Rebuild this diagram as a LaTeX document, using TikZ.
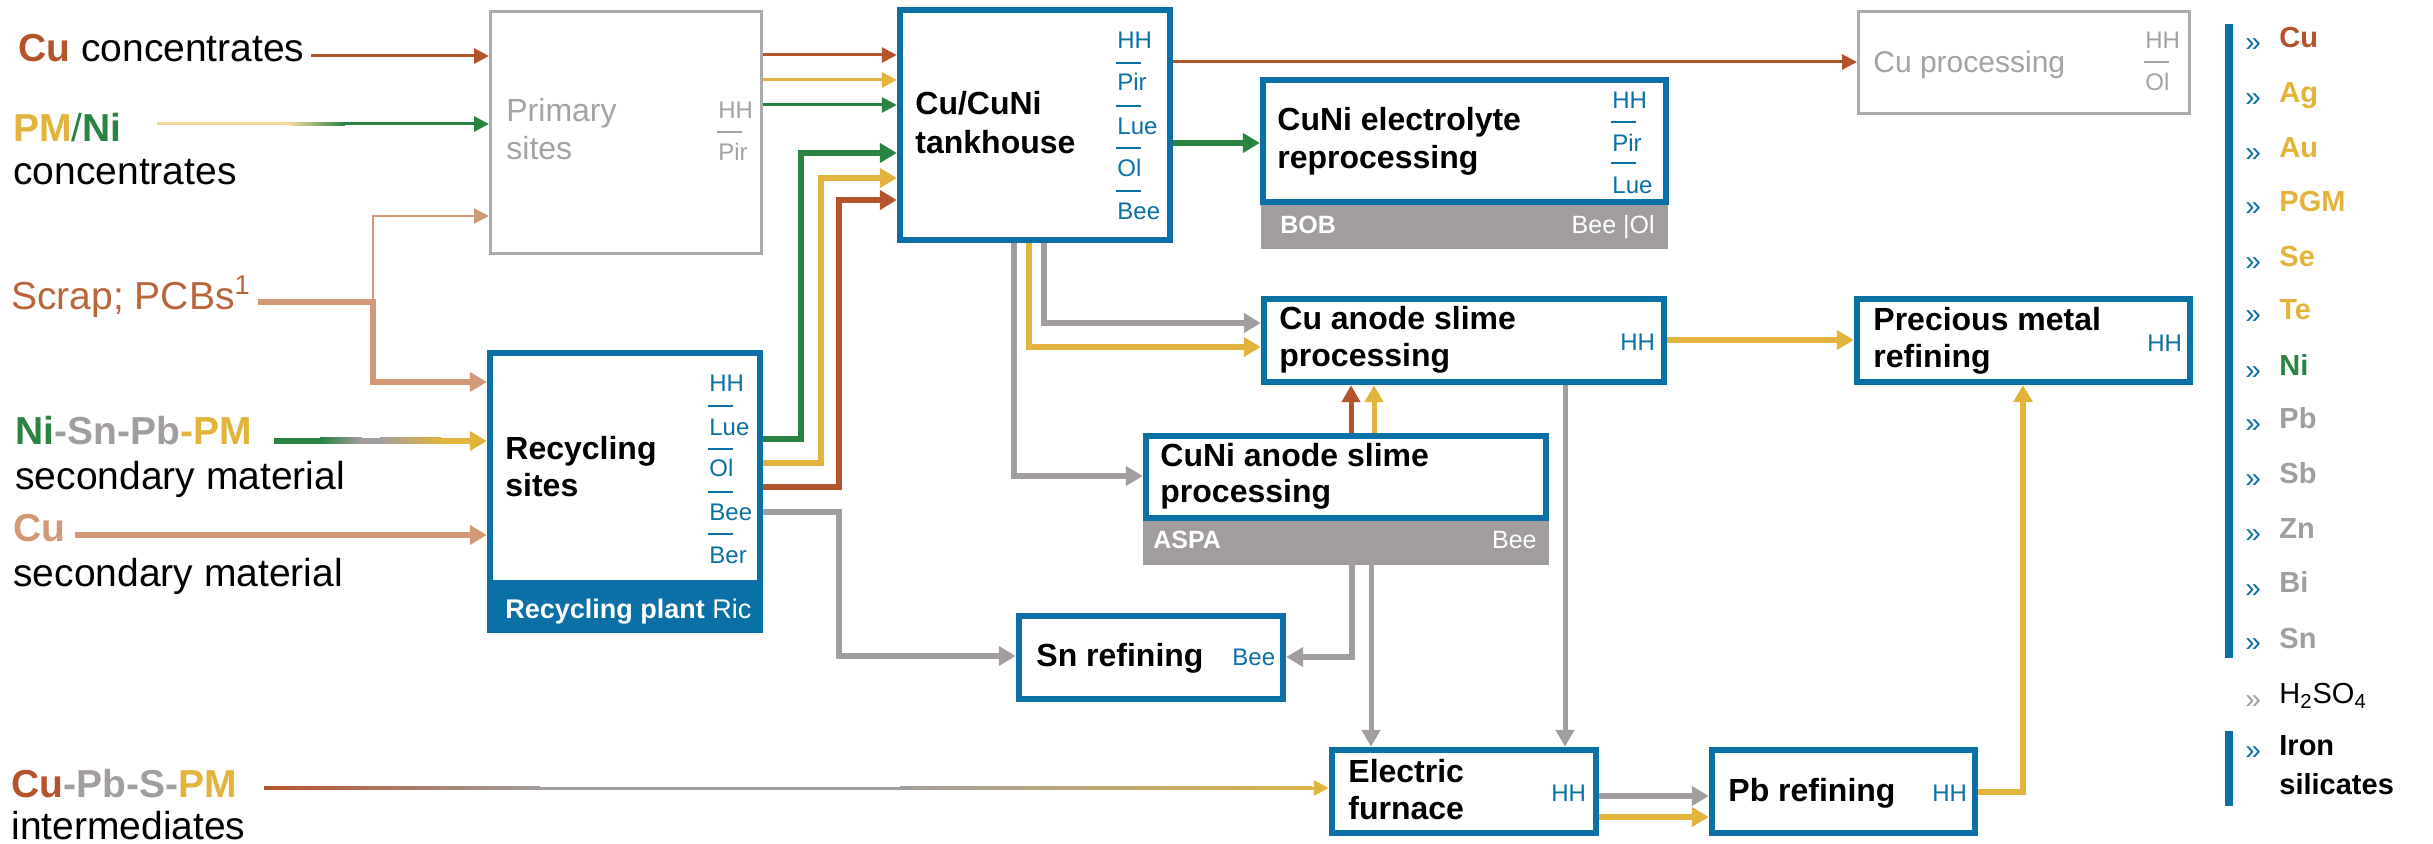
\documentclass[tikz,border=0pt]{standalone}
\usepackage{fontspec}
\setmainfont{Liberation Sans}
\usetikzlibrary{arrows.meta}
\definecolor{aublue}{HTML}{0A70A5}
\definecolor{cubrown}{HTML}{B4542A}
\definecolor{pmyellow}{HTML}{E3B43B}
\definecolor{nigreen}{HTML}{288440}
\definecolor{grayc}{HTML}{A29E9D}
\definecolor{scrapbrown}{HTML}{D39874}
\definecolor{scraptext}{HTML}{B9653A}
\definecolor{boxgray}{HTML}{ABABAB}
\definecolor{txtgray}{HTML}{A3A3A3}
\definecolor{bargray}{HTML}{A19D9C}
\definecolor{pmpale}{HTML}{F2D99A}
\newcommand\fsz[1]{\fontsize{#1}{#1}\selectfont}
\newcommand\mkbox[6]{\node[#1, minimum width={(#5-#3)*0.5pt}, minimum height={(#6-#4)*0.5pt}] (#2) at ({(#3+#5)/2},{(#4+#6)/2}) {};}
\begin{document}
\begin{tikzpicture}[x=0.5pt,y=-0.5pt,
  bbox/.style={draw=aublue, line width=3.2pt, fill=white, inner sep=0pt, rectangle},
  gbox/.style={draw=boxgray, line width=1.5pt, fill=white, inner sep=0pt, rectangle},
  gbar/.style={fill=bargray, draw=none, inner sep=0pt, rectangle, outer sep=0pt},
  bbar/.style={fill=aublue, draw=none, inner sep=0pt, rectangle, outer sep=0pt},
  ttl/.style={anchor=base west, inner sep=0pt, font=\fsz{16}\bfseries},
  side/.style={anchor=base west, inner sep=0pt, font=\fsz{12}, text=aublue},
  gside/.style={anchor=base west, inner sep=0pt, font=\fsz{12}, text=txtgray},
  sidesep/.style={aublue, line width=0.75pt},
  gsidesep/.style={txtgray, line width=0.75pt},
  bartxt/.style={inner sep=0pt, font=\fsz{12.5}, text=white},
  thkarrow/.style={line width=3pt, -{Triangle[length=8.5pt,width=9.5pt]}},
  medarrow/.style={line width=2.5pt, -{Triangle[length=8.5pt,width=9pt]}},
  thnarrow/.style={line width=1.5pt, -{Triangle[length=7.5pt,width=7.5pt]}},
  inlab/.style={anchor=base west, inner sep=0pt, font=\fsz{19.5}},
  leg/.style={anchor=base west, inner sep=0pt, font=\fsz{14.5}\bfseries},
  legmark/.style={anchor=base west, inner sep=0pt, font=\fsz{14}, text=aublue}
]
\useasboundingbox (0,0) rectangle (2433,844);

% ---------- boxes ----------
\mkbox{gbox}{prim}{490.5}{11.5}{761.5}{253.5}
\mkbox{gbox}{cup}{1858.5}{11.5}{2189.5}{113.5}
\mkbox{bbox}{tank}{900}{10}{1170}{240}
\mkbox{bbox}{cnel}{1263}{80}{1666}{202}
\mkbox{gbar}{bob}{1261}{205}{1668}{249}
\mkbox{bbox}{cuas}{1264}{299}{1664}{382}
\mkbox{bbox}{pmr}{1857}{299}{2190}{382}
\mkbox{bbox}{cuna}{1146}{436}{1546}{518}
\mkbox{gbar}{aspa}{1143}{521}{1549}{565}
\mkbox{bbox}{rec}{490}{353}{760}{583}
\mkbox{bbar}{recbar}{487}{580}{763}{633}
\mkbox{bbox}{sn}{1019}{616}{1283}{699}
\mkbox{bbox}{ef}{1332}{750}{1596}{833}
\mkbox{bbox}{pb}{1712}{750}{1975}{833}

% ---------- box texts ----------
\node[ttl, font=\fsz{16}, text=txtgray] (prim-t1) at (506,122) {Primary};
\node[ttl, font=\fsz{16}, text=txtgray] (prim-t2) at (506,160) {sites};
\node[gside] (prim-s1) at (718,118.5) {HH};
\node[gside] (prim-s2) at (718,160.5) {Pir};
\draw[gsidesep] (717,132) -- (742,132);

\node[ttl, font=\fsz{15}, text=txtgray] (cup-t) at (1873,73) {Cu processing};
\node[gside] (cup-s1) at (2145,48.5) {HH};
\node[gside] (cup-s2) at (2145,90.5) {Ol};
\draw[gsidesep] (2144,62) -- (2169,62);

\node[ttl] (tank-t1) at (915,115) {Cu/CuNi};
\node[ttl] (tank-t2) at (915,154) {tankhouse};
\foreach \t/\y [count=\i] in {HH/48.5, Pir/90.5, Lue/134.5, Ol/176.5, Bee/219.5}
  \node[side] (tank-s\i) at (1117,\y) {\t};
\foreach \y in {63,106,148,191} \draw[sidesep] (1116,\y) -- (1141,\y);

\node[ttl] (cnel-t1) at (1277,131) {CuNi electrolyte};
\node[ttl] (cnel-t2) at (1277,169) {reprocessing};
\foreach \t/\y [count=\i] in {HH/108.5, Pir/151.5, Lue/193.5}
  \node[side] (cnel-s\i) at (1612,\y) {\t};
\foreach \y in {122,163} \draw[sidesep] (1611,\y) -- (1636,\y);
\node[bartxt, anchor=base west, font=\fsz{12.5}\bfseries] (bob-t1) at (1280,234) {BOB};
\node[bartxt, anchor=base east] (bob-t2) at (1655,234) {Bee |Ol};

\node[ttl] (cuas-t1) at (1279,330) {Cu anode slime};
\node[ttl] (cuas-t2) at (1279,367) {processing};
\node[side] (cuas-s) at (1620,350.5) {HH};

\node[ttl] (pmr-t1) at (1873,331) {Precious metal};
\node[ttl] (pmr-t2) at (1873,368) {refining};
\node[side] (pmr-s) at (2147,351.5) {HH};

\node[ttl] (cuna-t1) at (1160,467) {CuNi anode slime};
\node[ttl] (cuna-t2) at (1160,503) {processing};
\node[bartxt, anchor=base west, font=\fsz{12.5}\bfseries] (aspa-t1) at (1153,549) {ASPA};
\node[bartxt, anchor=base east] (aspa-t2) at (1537,549) {Bee};

\node[ttl] (rec-t1) at (505,460) {Recycling};
\node[ttl] (rec-t2) at (505,497) {sites};
\foreach \t/\y [count=\i] in {HH/391.5, Lue/435.5, Ol/476.5, Bee/520.5, Ber/563.5}
  \node[side] (rec-s\i) at (709,\y) {\t};
\foreach \y in {406,449,492,534} \draw[sidesep] (708,\y) -- (733,\y);
\node[bartxt, anchor=base west, font=\fsz{13.5}] (recbar-t) at (505,618) {{\bfseries Recycling plant} Ric};

\node[ttl] (sn-t) at (1036,667) {Sn refining};
\node[side] (sn-s) at (1232,665.5) {Bee};

\node[ttl] (ef-t1) at (1348,782) {Electric};
\node[ttl] (ef-t2) at (1348,819) {furnace};
\node[side] (ef-s) at (1551,801.5) {HH};

\node[ttl] (pb-t) at (1728,801) {Pb refining};
\node[side] (pb-s) at (1932,801.5) {HH};

% ---------- input labels ----------
\node[inlab] (in-cu) at (18,62) {\textcolor{cubrown}{\bfseries Cu} concentrates};
\node[inlab] (in-pm) at (13,142) {\textcolor{pmyellow}{\bfseries PM}\textcolor{nigreen}{/\bfseries Ni}};
\node[inlab] (in-pm2) at (13,185) {concentrates};
\node[inlab, text=scraptext] (in-sc) at (11,310) {Scrap; PCBs\textsuperscript{1}};
\node[inlab, font=\fsz{19.5}\bfseries] (in-ni) at (15,445) {\textcolor{nigreen}{Ni}\textcolor{grayc}{-Sn-Pb}\textcolor{pmyellow}{-PM}};
\node[inlab] (in-ni2) at (15,490) {secondary material};
\node[inlab, font=\fsz{19.5}\bfseries, text=scrapbrown] (in-cs) at (13,542) {Cu};
\node[inlab] (in-cs2) at (13,587) {secondary material};
\node[inlab, font=\fsz{19.5}\bfseries] (in-cp) at (11,797) {\textcolor{cubrown}{Cu}\textcolor{grayc}{-Pb-S-}\textcolor{pmyellow}{PM}};
\node[inlab] (in-cp2) at (11,839) {intermediates};

% ---------- input connectors ----------
\coordinate (cuS) at (311,56);
\draw[cubrown, thnarrow] (cuS) -- (prim.west |- cuS);

\coordinate (pmS) at (157,124);
\coordinate (pmM) at (344,124);
\fill[pmpale] (157,122.5) rectangle (290,125.5);
\shade[left color=pmpale, right color=nigreen] (290,122.5) rectangle (345,125.5);
\draw[nigreen, thnarrow] (pmM) -- (prim.west |- pmM);

\coordinate (scS) at (258,302);
\coordinate (scJ) at (373,302);
\draw[scrapbrown, thkarrow] (scS) -| (373,382) -- (rec.west |- 0,382);
\draw[scrapbrown, line width=1.2pt, -{Triangle[length=7.5pt,width=7.5pt]}] (scJ) |- (prim.west |- 0,216);

\coordinate (niM) at (440,441);
\fill[nigreen] (274,438) rectangle (320,444);
\shade[left color=nigreen, right color=grayc] (320,438) rectangle (362,444);
\fill[grayc] (362,438) rectangle (380,444);
\shade[left color=grayc, right color=pmyellow] (380,438) rectangle (441,444);
\draw[pmyellow, thkarrow] (niM) -- (rec.west |- niM);

\coordinate (csS) at (75,535);
\draw[scrapbrown, thkarrow] (csS) -- (rec.west |- csS);

\coordinate (cpM) at (1310,788);
\shade[left color=cubrown, right color=grayc] (264,786.5) rectangle (540,789.5);
\fill[grayc] (540,786.5) rectangle (900,789.5);
\shade[left color=grayc, right color=pmyellow!85!grayc] (900,786.5) rectangle (1312,789.5);
\draw[pmyellow, thnarrow] (cpM) -- (ef.west |- cpM);

% ---------- internal connectors ----------
\draw[cubrown, thnarrow] (prim.east |- 0,55) -- (tank.west |- 0,55);
\draw[pmyellow, thnarrow] (prim.east |- 0,80) -- (tank.west |- 0,80);
\draw[nigreen, thnarrow] (prim.east |- 0,105) -- (tank.west |- 0,105);

\draw[nigreen, thkarrow] (rec.east |- 0,439) -| (801,153) -- (tank.west |- 0,153);
\draw[pmyellow, thkarrow] (rec.east |- 0,463) -| (821,178) -- (tank.west |- 0,178);
\draw[cubrown, thkarrow] (rec.east |- 0,487) -| (839,200) -- (tank.west |- 0,200);
\draw[grayc, thkarrow] (rec.east |- 0,512) -| (839,656) -- (sn.west |- 0,656);

\draw[cubrown, thnarrow] (tank.east |- 0,62) -- (cup.west |- 0,62);
\draw[nigreen, thkarrow] (tank.east |- 0,143) -- (cnel.west |- 0,143);
\draw[grayc, thkarrow] (tank.south -| 1044,0) |- (cuas.west |- 0,323);
\draw[pmyellow, thkarrow] (tank.south -| 1029,0) |- (cuas.west |- 0,347);
\draw[grayc, thkarrow] (tank.south -| 1014,0) |- (cuna.west |- 0,476);

\draw[cubrown, medarrow] (cuna.north -| 1351,0) -- (cuas.south -| 1351,0);
\draw[pmyellow, medarrow] (cuna.north -| 1374,0) -- (cuas.south -| 1374,0);
\draw[grayc, thkarrow] (aspa.south -| 1352,0) |- (sn.east |- 0,657);
\draw[grayc, medarrow] (aspa.south -| 1371,0) -- (ef.north -| 1371,0);
\draw[grayc, medarrow] (cuas.south -| 1565,0) -- (ef.north -| 1565,0);
\draw[pmyellow, thkarrow] (cuas.east |- 0,340) -- (pmr.west |- 0,340);
\draw[grayc, thkarrow] (ef.east |- 0,796) -- (pb.west |- 0,796);
\draw[pmyellow, thkarrow] (ef.east |- 0,817) -- (pb.west |- 0,817);
\draw[pmyellow, thkarrow] (pb.east |- 0,792) -| (pmr.south -| 2023,0);

% ---------- legend ----------
\fill[aublue] (2225,24) rectangle (2233,658);
\fill[aublue] (2225,731) rectangle (2233,806);
\foreach \n/\c/\y in {Cu/cubrown/38, Ag/pmyellow/93, Au/pmyellow/148, PGM/pmyellow/202, Se/pmyellow/257, Te/pmyellow/310, Ni/nigreen/366, Pb/grayc/419, Sb/grayc/474, Zn/grayc/529, Bi/grayc/583, Sn/grayc/638}{
  \node[legmark] (lm\n) at (2245,{\y+14}) {»};
  \node[leg, text=\c] (lt\n) at (2279,{\y+10}) {\n};
}
\node[legmark, text=grayc] (lmH) at (2245,708) {»};
\node[leg, font=\fsz{14.5}] (ltH) at (2279,704) {H\textsubscript{2}SO\textsubscript{4}};
\node[legmark] (lmFe) at (2245,759) {»};
\node[leg] (ltFe1) at (2279,755) {Iron};
\node[leg] (ltFe2) at (2279,794) {silicates};
\end{tikzpicture}
\end{document}
